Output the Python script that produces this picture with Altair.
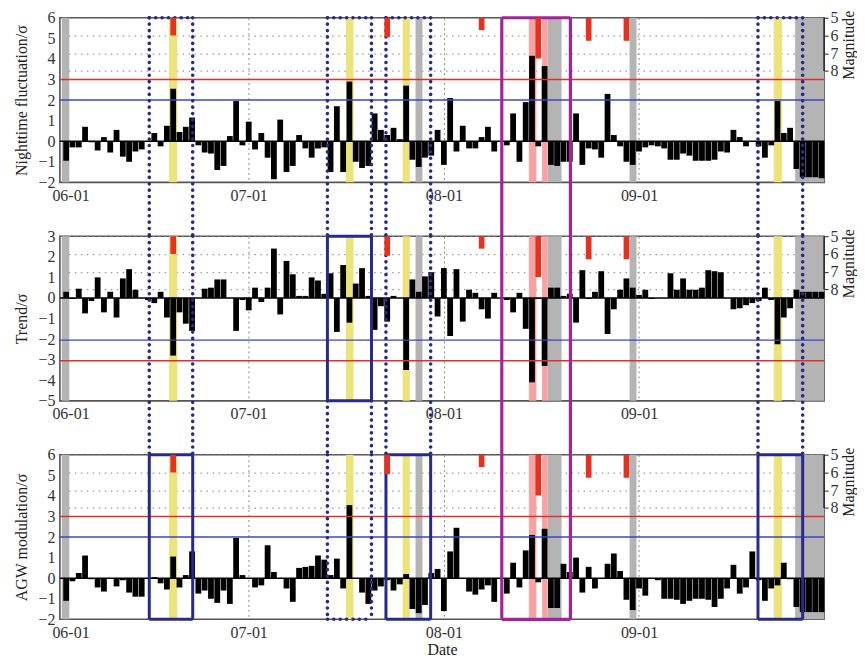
import altair as alt
import pandas as pd

# ---------------- data ----------------
DAYS = list(range(122))          # day offset from 06-01
TICK_DAYS = [0, 30, 61, 92]
TICK_LABELS = ["06-01", "07-01", "08-01", "09-01"]
X_END = 121.4

NIGHT = [0, -0.95, -0.3, -0.3, 0.7, -0.05, -0.45, 0.2, -0.55, 0.55,
         -0.75, -1.0, -0.5, -0.4, 0.0, 0.4, -0.25, 0.75, 2.55, 0.45,
         0.7, 1.15, -0.2, -0.55, -0.6, -1.4, -1.2, 0.25, 1.95, -0.2,
         0.95, -0.4, 0.4, -0.8, -1.85, 1.05, -1.5, -1.2, 0.3, -0.35,
         -0.8, -0.35, -0.3, -1.5, 1.7, -1.5, 2.9, -1.0, -1.3, -1.2,
         1.35, 0.55, 0.3, 0.65, 0.1, 2.7, -0.9, -1.25, -0.8, -0.7,
         0.55, -1.15, 2.1, -0.5, 0.75, -0.35, -0.35, 0.2, 0.7, -0.5,
         0.0, -0.2, 1.35, -1.0, 1.9, 4.15, -0.25, 3.65, -1.15, -1.2,
         -1.0, -1.0, 1.35, -1.15, -0.35, -0.4, -0.8, 2.3, 0.3, -0.25,
         -1.0, -1.15, -0.5, -0.3, -0.2, -0.25, -0.35, -0.9, -0.9, -0.6,
         -0.7, -0.95, -0.95, -0.95, -0.9, -0.5, -0.55, 0.55, 0.2, -0.25,
         0.0, -0.25, -0.8, -0.2, 1.95, 0.4, 0.65, -1.35, -1.75, -1.75,
         -1.75, -1.8]

TREND = [0, 0.3, -0.05, 0.45, -0.75, -0.15, 1.0, -0.7, 0.3, -0.95,
         0.95, 1.4, 0.4, 0.0, -0.1, -0.25, 0.3, -0.95, -2.8, -0.7,
         -1.25, -1.6, 0.0, 0.45, 0.5, 0.9, 0.9, 0.0, -1.6, -0.1,
         -0.6, 0.5, -0.2, 0.5, 2.4, -0.8, 1.8, 1.15, 0.1, 0.1,
         1.0, 0.85, 0.2, 1.2, -1.65, 1.6, -1.2, 0.7, 1.45, 0.1,
         -1.55, -0.4, -1.15, 0.1, 0.0, -3.5, 0.9, 0.3, 1.05, 1.25,
         -0.9, 1.45, -1.85, 1.4, -1.15, 0.4, 0.25, -0.55, -1.0, 0.25,
         0.0, -0.1, -0.7, 0.25, -1.5, -4.1, -0.05, -3.3, 0.5, 0.5,
         0.1, 0.2, -1.2, 1.35, -0.05, 0.3, 1.3, -1.75, -0.55, 0.4,
         0.95, 0.5, 0.15, 0.4, -0.05, 0.0, 0.0, 1.2, 0.4, 0.95,
         0.4, 0.4, 0.5, 1.35, 1.3, 1.25, 0.0, -0.55, -0.5, -0.35,
         -0.25, -0.15, 0.5, -0.1, -2.25, -0.95, -0.5, 0.4, 0.3, 0.3,
         0.3, 0.3]

AGW = [0, -1.1, -0.15, 0.25, 1.1, -0.05, -0.45, -0.65, 0.0, -0.4,
       -0.1, -0.7, -0.9, -0.9, 0.0, 0.05, -0.25, -0.55, 1.05, -0.45,
       0.15, 1.3, -0.75, -0.6, -1.0, -1.2, -0.6, -1.25, 1.95, 0.15,
       0.0, -0.45, -0.35, 1.6, 0.3, 0.0, -0.5, -1.15, 0.5, 0.55,
       0.6, 1.1, 0.9, 0.15, 0.95, -0.5, 3.55, 0.0, -0.7, -1.25,
       -0.6, -0.4, -0.1, -0.6, -0.3, 0.2, -1.5, -1.7, -1.3, 0.25,
       0.45, -1.6, 1.3, 2.45, 0.0, -0.65, -0.8, -0.55, -0.35, -1.15,
       0.0, -0.75, 0.75, -0.45, 1.35, 2.1, -0.2, 2.4, -1.45, -1.45,
       0.7, 0.3, 1.0, -0.7, 0.55, -0.5, 0.0, 0.7, 1.2, 0.35,
       -1.05, -1.55, -0.5, -0.85, 0.0, -0.1, -1.0, -1.0, -1.05, -1.25,
       -1.1, -1.0, -1.0, -1.05, -1.4, -1.0, -0.5, 0.65, -0.75, -0.45,
       1.3, -0.1, -1.1, -0.5, -0.35, 0.75, -0.05, -1.4, -1.65, -1.65,
       -1.65, -1.65]

GREY_START = [0.3, 56.5, 77.5, 90.5, 116.8]
GREY_END = [1.5, 57.6, 79.7, 91.6, 121.4]
YELLOW_START = [17.35, 45.45, 54.45, 113.4]
YELLOW_END = [18.65, 46.65, 55.6, 114.7]
PINK_START = [74.5, 76.6]
PINK_END = [75.7, 77.5]

EQ_DAYS = [18, 52, 67, 76, 84, 90]
EQ_MAG = [6.0, 6.1, 5.7, 7.3, 6.3, 6.3]
MAG_TICKS = [5, 6, 7, 8]

BOX_LEFT = [14.2, 42.5, 51.8, 70.2, 110.9]
BOX_RIGHT = [21.1, 49.5, 58.9, 81.1, 118.0]

# ---------------- layout / style ----------------
W, H = 766, 165
SPACING = 54
MAG_MAX = 5 + H / 17.77
FONT = "Liberation Serif"
NAVY = "#262a8c"
MAGENTA = "#a4239c"

x_scale = alt.Scale(domain=[0, X_END], nice=False, zero=False)
label_expr = "".join(
    f"datum.value == {d} ? '{t}' : " for d, t in zip(TICK_DAYS, TICK_LABELS)
) + "''"


def x_axis(title):
    return alt.Axis(values=TICK_DAYS, labelExpr=label_expr, title=title,
                    grid=True, gridDash=[2, 3], gridColor="#8a8a8a",
                    ticks=False, domain=False, labelPadding=5,
                    labelFlush=True, labelFlushOffset=8, titlePadding=1)


def panel(values, ymin, ymax, title, red_y, blue_y, boxes, xtitle):
    ysc = alt.Scale(domain=[ymin, ymax], nice=False, zero=False)
    yax = alt.Axis(values=list(range(ymin, ymax + 1)), title=title,
                   grid=False, ticks=False, domain=False, labelPadding=5,
                   titlePadding=8)
    X = lambda f: alt.X(f, type="quantitative", scale=x_scale, axis=x_axis(xtitle))
    Y = lambda f: alt.Y(f, type="quantitative", scale=ysc, axis=yax)

    def bands(starts, ends, color):
        df = pd.DataFrame({"a": starts, "b": ends, "t": ymax, "u": ymin})
        return alt.Chart(df).mark_rect(color=color).encode(
            x=X("a"), x2="b", y=Y("t"), y2="u")

    bdf = pd.DataFrame({"day": DAYS, "v": values})
    bdf["a"] = bdf["day"] - 0.46
    bdf["b"] = bdf["day"] + 0.46
    bdf["z"] = 0.0
    bars = alt.Chart(bdf).mark_rect(color="black").encode(
        x=X("a"), x2="b", y=Y("z"), y2="v")
    zero = alt.Chart(pd.DataFrame({"z": [0.0]})).mark_rule(
        color="black", strokeWidth=1.6).encode(y=Y("z"))
    red = alt.Chart(pd.DataFrame({"z": [red_y]})).mark_rule(
        color="#e0302c", strokeWidth=1.4).encode(y=Y("z"))
    blue = alt.Chart(pd.DataFrame({"z": [blue_y]})).mark_rule(
        color="#3a44c8", strokeWidth=1.4).encode(y=Y("z"))

    ext = ymin - SPACING / (H / (ymax - ymin))
    rows = []
    for i, spec in enumerate(boxes):
        l, r = BOX_LEFT[i], BOX_RIGHT[i]
        for (style, ytop, ybot, top_e, bot_e) in spec:
            yt = {"max": ymax, "min": ymin, "ext": ext}[ytop]
            yb = {"max": ymax, "min": ymin, "ext": ext}[ybot]
            rows.append(dict(x=l, x2=l, y=yt, y2=yb, s=style))
            rows.append(dict(x=r, x2=r, y=yt, y2=yb, s=style))
            if top_e:
                rows.append(dict(x=l, x2=r, y=yt, y2=yt, s=style))
            if bot_e:
                rows.append(dict(x=l, x2=r, y=yb, y2=yb, s=style))
    sdf = pd.DataFrame(rows)

    def seg(style, **mk):
        return alt.Chart(sdf[sdf.s == style]).mark_rule(**mk).encode(
            x=X("x"), x2="x2", y=Y("y"), y2="y2")

    dotted = seg("d", color=NAVY, strokeWidth=3.6, strokeDash=[0.1, 6.3],
                 strokeCap="round")
    solid = seg("s", color=NAVY, strokeWidth=3)
    mag = seg("m", color=MAGENTA, strokeWidth=3.2)

    inner = alt.layer(bands(GREY_START, GREY_END, "#b4b4b4"),
                      bands(YELLOW_START, YELLOW_END, "#ece47a"),
                      bands(PINK_START, PINK_END, "#f7a3a3"),
                      bars, zero, red, blue, dotted, solid, mag)

    msc = alt.Scale(domain=[5, MAG_MAX], reverse=True, nice=False, zero=False)
    max_ax = alt.Axis(orient="right", values=MAG_TICKS, title="Magnitude",
                      grid=True, gridDash=[1.5, 4.5], gridColor="#9a9a9a",
                      gridWidth=1.2, domain=False, ticks=True, tickSize=4,
                      tickColor="#222", labelPadding=2, titleAngle=270,
                      titleBaseline="top", titleY=27, titleAlign="center",
                      titlePadding=2)
    edf = pd.DataFrame({"day": EQ_DAYS, "m": EQ_MAG})
    edf["a"] = edf["day"] - 0.45
    edf["b"] = edf["day"] + 0.45
    edf["t"] = 5.0
    eq = alt.Chart(edf).mark_rect(color="#e8301e").encode(
        x=X("a"), x2="b",
        y=alt.Y("t:Q", scale=msc, axis=max_ax), y2="m")
    brk = alt.Chart(pd.DataFrame({"xe": [X_END], "t": [5.0], "u": [8.0]})).mark_rule(
        color="#222", strokeWidth=1.5).encode(
        x=X("xe"), y=alt.Y("t:Q", scale=msc, axis=max_ax), y2="u")
    outer = alt.layer(eq, brk)

    return alt.layer(inner, outer).resolve_scale(y="independent").properties(
        width=W, height=H)


def top_spec(style):
    return [(style, "max", "ext", True, False)]


top_boxes = [top_spec("d"), top_spec("d"), top_spec("d"), top_spec("m"), top_spec("d")]
mid_boxes = [[("d", "max", "ext", False, False)],
             [("s", "max", "min", True, True), ("d", "min", "ext", False, False)],
             [("d", "max", "ext", False, False)],
             [("m", "max", "ext", False, False)],
             [("d", "max", "ext", False, False)]]
bot_boxes = [[("s", "max", "min", True, True)],
             [("d", "max", "min", False, True)],
             [("s", "max", "min", True, True)],
             [("m", "max", "min", False, True)],
             [("s", "max", "min", True, True)]]

p1 = panel(NIGHT, -2, 6, "Nighttime fluctuation/σ", 3, 2, top_boxes, None)
p2 = panel(TREND, -5, 3, "Trend/σ", -3.05, -2.05, mid_boxes, None)
p3 = panel(AGW, -2, 6, "AGW modulation/σ", 3, 2, bot_boxes, "Date")

chart = alt.vconcat(p1, p2, p3, spacing=SPACING, bounds="flush").properties(
    padding={"left": 5, "top": 0, "right": 0, "bottom": 0}
).configure(font=FONT).configure_view(
    stroke="#555", strokeWidth=1.6
).configure_axis(
    labelFont=FONT, titleFont=FONT, labelFontSize=16, titleFontSize=16,
    titleFontWeight="normal", labelColor="#333", titleColor="#222"
)

chart.save("out.html", embed_options={"renderer": "svg", "actions": False})
